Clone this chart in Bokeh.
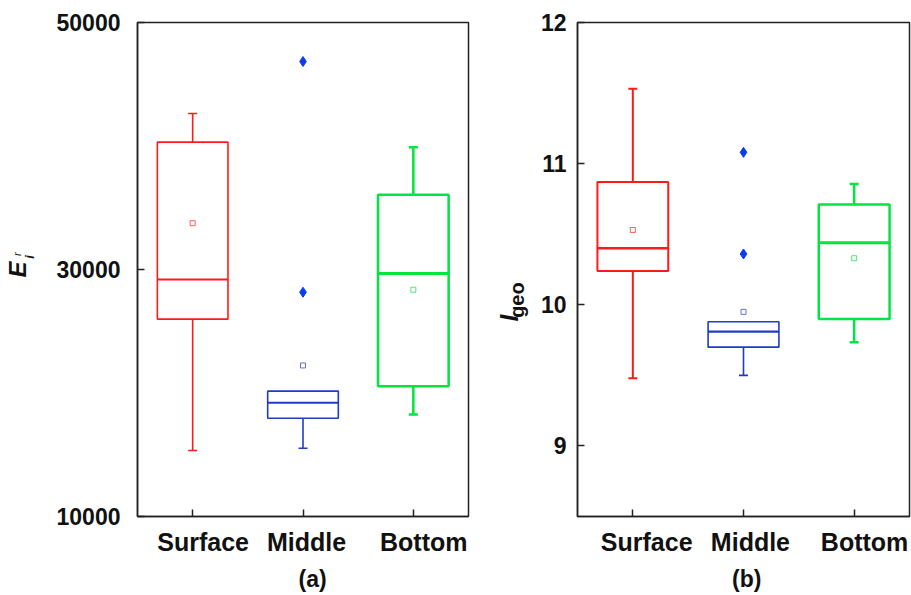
from bokeh.plotting import figure
from bokeh.layouts import row
from bokeh.models import Range1d, FixedTicker, LinearAxis
from bokeh.embed import file_html
from bokeh.resources import INLINE

# ---------------- data ----------------
categories = ["Surface", "Middle", "Bottom"]
colors = ["#FF1A1A", "#1E3CC8", "#00E640"]

# panel (a): E_i^r
a_whisk_lo = [15350, 15530, 18260]
a_q1 = [25980, 17960, 20550]
a_median = [29190, 19210, 29680]
a_q3 = [40310, 20150, 36050]
a_whisk_hi = [42630, 20150, 39900]
a_mean = [33750, 22230, 28360]
a_out_cat = ["Middle", "Middle"]
a_out_val = [46840, 28160]
a_ticks = [10000, 30000, 50000]

# panel (b): I_geo
b_whisk_lo = [9.48, 9.50, 9.735]
b_q1 = [10.24, 9.70, 9.90]
b_median = [10.40, 9.81, 10.44]
b_q3 = [10.87, 9.88, 10.71]
b_whisk_hi = [11.53, 9.88, 10.855]
b_mean = [10.53, 9.95, 10.33]
b_out_cat = ["Middle", "Middle"]
b_out_val = [11.08, 10.36]
b_ticks = [9, 10, 11, 12]

FONT = "Liberation Sans"
BOX_W = 0.64
NBSP = "\u00a0"
pos = {c: i + 0.5 for i, c in enumerate(categories)}   # category slot centres


def make_panel(lo, q1, med, q3, hi, mean, out_cat, out_val, yr, ticks,
               tag, left_border, frame_w, label_standoff, box_widths, label_pad):
    p = figure(x_range=Range1d(0, len(categories)),
               y_range=Range1d(*yr),
               frame_width=frame_w, frame_height=494,
               min_border_left=left_border, min_border_right=3,
               min_border_top=22, min_border_bottom=79,
               output_backend="svg", toolbar_location=None)
    p.background_fill_color = "white"
    p.border_fill_color = "white"
    p.xgrid.visible = False
    p.ygrid.visible = False
    p.outline_line_color = "#222222"
    p.outline_line_width = 1.5

    for i, c in enumerate(categories):
        lw = box_widths[i]
        x = pos[c]
        p.segment(x0=[x], y0=[lo[i]], x1=[x], y1=[q1[i]], line_color=colors[i], line_width=lw)
        p.scatter(x=[x], y=[lo[i]], marker="dash", size=9, line_color=colors[i], line_width=lw)
        if hi[i] > q3[i]:
            p.segment(x0=[x], y0=[q3[i]], x1=[x], y1=[hi[i]], line_color=colors[i], line_width=lw)
            p.scatter(x=[x], y=[hi[i]], marker="dash", size=9, line_color=colors[i], line_width=lw)
        p.vbar(x=[x], bottom=[q1[i]], top=[q3[i]], width=BOX_W,
               fill_color=None, line_color=colors[i], line_width=lw)
        p.segment(x0=[x - BOX_W / 2], y0=[med[i]], x1=[x + BOX_W / 2], y1=[med[i]],
                  line_color=colors[i], line_width=lw + 0.5)
        p.scatter(x=[x], y=[mean[i]], marker="square", size=5,
                  fill_color=None, line_color=colors[i], line_width=1, line_alpha=0.7)

    p.scatter(x=[pos[c] for c in out_cat], y=out_val, marker="diamond", size=10,
              fill_color="#0A3CF0", line_color="#0A3CF0")

    xa = p.xaxis[0]
    xa.ticker = FixedTicker(ticks=[pos[c] for c in categories])
    # labels in the original sit a little right of their ticks
    xa.major_label_overrides = {pos[c]: NBSP * k + c for c, k in zip(categories, label_pad[0])}
    xa.axis_line_color = "#222222"
    xa.axis_line_width = 1.5
    xa.major_tick_in = 7
    xa.major_tick_out = 0
    xa.major_tick_line_color = "#222222"
    xa.major_tick_line_width = 1.5
    xa.minor_tick_line_color = None
    xa.major_label_text_font = FONT
    xa.major_label_text_font_style = "bold"
    xa.major_label_text_font_size = "25px"
    xa.major_label_text_color = "#111111"
    xa.major_label_standoff = 11
    xa.axis_label = NBSP * label_pad[1] + tag
    xa.axis_label_text_font = FONT
    xa.axis_label_text_font_style = "bold"
    xa.axis_label_text_font_size = "23px"
    xa.axis_label_text_color = "#111111"
    xa.axis_label_standoff = 7

    ya = p.yaxis[0]
    ya.ticker = FixedTicker(ticks=ticks)
    ya.axis_line_color = "#222222"
    ya.axis_line_width = 1.5
    ya.major_tick_in = 7
    ya.major_tick_out = 0
    ya.major_tick_line_color = "#222222"
    ya.major_tick_line_width = 1.5
    ya.minor_tick_line_color = None
    ya.major_label_text_font = FONT
    ya.major_label_text_font_style = "bold"
    ya.major_label_text_font_size = "23px"
    ya.major_label_text_color = "#111111"
    ya.major_label_standoff = label_standoff
    return p


def label_axis(p, text, standoff, style, size):
    """An axis with no ticks whose only job is to carry one piece of the y title."""
    ax = LinearAxis(ticker=FixedTicker(ticks=[]),
                    axis_line_color=None, major_tick_line_color=None,
                    minor_tick_line_color=None, major_tick_in=0, major_tick_out=0,
                    minor_tick_in=0, minor_tick_out=0, major_label_standoff=0,
                    axis_label=text, axis_label_standoff=standoff,
                    axis_label_text_font=FONT, axis_label_text_font_style=style,
                    axis_label_text_font_size=size, axis_label_text_color="#111111")
    p.add_layout(ax, "left")


pa = make_panel(a_whisk_lo, a_q1, a_median, a_q3, a_whisk_hi, a_mean,
                a_out_cat, a_out_val, (10000, 50000), a_ticks, "(a)",
                136, 331, 17, [1.6, 1.6, 2.5], ([3, 1, 3], 3))
pb = make_panel(b_whisk_lo, b_q1, b_median, b_q3, b_whisk_hi, b_mean,
                b_out_cat, b_out_val, (8.5, 12), b_ticks, "(b)",
                106, 332, 11, [2.0, 1.6, 2.5], ([4, 2, 3], 1))

# y title of panel (a): E with subscript i and superscript r
label_axis(pa, NBSP * 7 + "i", 17, "bold italic", "13px")
label_axis(pa, "E", -12, "bold italic", "24px")
label_axis(pa, NBSP * 10 + "r", -22, "italic", "11px")

# y title of panel (b): I with subscript geo
label_axis(pb, "geo" + NBSP * 11, 10, "bold", "20px")
label_axis(pb, "I" + NBSP * 14, -20, "bold italic", "25px")

layout = row(pa, pb, spacing=0)
open("out.html", "w").write(file_html(layout, INLINE))
